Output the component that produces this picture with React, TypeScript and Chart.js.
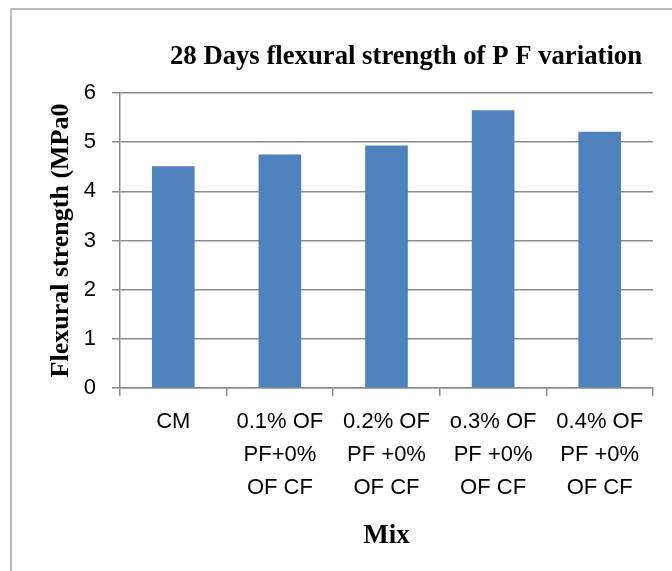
import React, { useEffect, useRef } from "react";
import { Chart, registerables } from "chart.js";

Chart.register(...registerables);

// ---- data ----
const categories: string[][] = [
  ["CM"],
  ["0.1% OF", "PF+0%", "OF CF"],
  ["0.2% OF", "PF +0%", "OF CF"],
  ["o.3% OF", "PF +0%", "OF CF"],
  ["0.4% OF", "PF +0%", "OF CF"],
];
const strengthValues: number[] = [4.51, 4.75, 4.93, 5.65, 5.21];
const yMin = 0;
const yMax = 6;
const yStep = 1;
const chartTitle = "28 Days flexural strength of P F variation";
const yTitle = "Flexural strength (MPa0";
const xTitle = "Mix";

const SANS = "'Liberation Sans Narrow', 'Arial Narrow', 'Liberation Sans', Arial, sans-serif";
const SERIF = "'Liberation Serif', 'Times New Roman', serif";
const GRID = "#8c8c8c";

const CANVAS_W = 672;
const CANVAS_H = 571;

const framePlugin = {
  id: "frame",
  beforeDraw(chart: any) {
    const ctx = chart.ctx;
    ctx.save();
    ctx.fillStyle = "#ffffff";
    ctx.fillRect(0, 0, chart.width, chart.height);
    ctx.strokeStyle = "#a6a6a6";
    ctx.lineWidth = 1.5;
    ctx.strokeRect(11, 9, 2000, 2000);
    ctx.restore();
  },
  afterLayout(chart: any) {
    // the title in the source figure is centred on a wider frame that is cropped on the right
    const tb = chart.titleBlock;
    if (tb) {
      tb.left = 170;
      tb.right = 642;
      tb.width = tb.right - tb.left;
    }
  },
};

export default function App() {
  const ref = useRef<HTMLCanvasElement | null>(null);

  useEffect(() => {
    if (!ref.current) return;
    const chart = new Chart(ref.current, {
      type: "bar",
      data: {
        labels: categories,
        datasets: [
          {
            label: "Flexural strength",
            data: strengthValues,
            backgroundColor: "#4f81bd",
            borderWidth: 0,
            categoryPercentage: 1,
            barPercentage: 0.4,
          },
        ],
      },
      options: {
        animation: false,
        responsive: false,
        devicePixelRatio: 1,
        layout: { padding: { left: 0, right: CANVAS_W - 653, top: 0, bottom: 0 } },
        plugins: {
          legend: { display: false },
          tooltip: { enabled: false },
          title: {
            display: true,
            text: chartTitle,
            color: "#000",
            font: { family: SERIF, size: 27, weight: "bold", lineHeight: 1.2 },
            padding: { top: 40.8, bottom: 19.8 },
          },
        },
        scales: {
          x: {
            type: "category",
            offset: true,
            afterFit(scale: any) {
              scale.height = CANVAS_H - 388;
            },
            grid: {
              display: true,
              drawOnChartArea: false,
              drawTicks: true,
              tickLength: 8,
              offset: true,
              color: GRID,
              lineWidth: 1.5,
            },
            border: { display: true, color: GRID, width: 1.5 },
            ticks: {
              color: "#000",
              padding: 9.5,
              maxRotation: 0,
              autoSkip: false,
              font: { family: SANS, size: 22, lineHeight: 1.5 },
            },
            title: {
              display: true,
              text: xTitle,
              color: "#000",
              font: { family: SERIF, size: 27, weight: "bold", lineHeight: 1.2 },
              padding: { top: 0, bottom: 19 },
            },
          },
          y: {
            min: yMin,
            max: yMax,
            afterFit(scale: any) {
              scale.width = 120;
            },
            grid: {
              color: GRID,
              lineWidth: 1.5,
              drawTicks: true,
              tickLength: 8,
            },
            border: { display: true, color: GRID, width: 1.5 },
            ticks: {
              stepSize: yStep,
              color: "#000",
              padding: 16,
              font: { family: SANS, size: 22 },
            },
            title: {
              display: true,
              text: yTitle,
              color: "#000",
              font: { family: SERIF, size: 26, weight: "bold", lineHeight: 1.2 },
              padding: { top: 45.4, bottom: 0 },
            },
          },
        },
      },
      plugins: [framePlugin],
    } as any);
    return () => chart.destroy();
  }, []);

  return (
    <div
      style={{
        position: "absolute",
        left: 0,
        top: 0,
        width: 672,
        height: 571,
        overflow: "hidden",
        background: "#fff",
      }}
    >
      <canvas
        ref={ref}
        width={CANVAS_W}
        height={CANVAS_H}
        style={{ width: CANVAS_W, height: CANVAS_H, display: "block" }}
      />
    </div>
  );
}
